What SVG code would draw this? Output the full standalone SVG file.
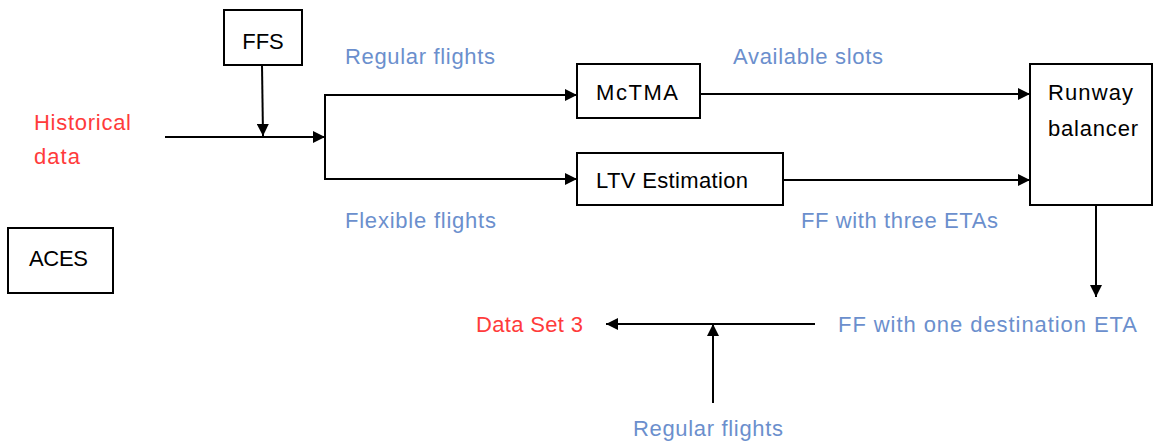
<svg xmlns="http://www.w3.org/2000/svg" width="1154" height="442" viewBox="0 0 1154 442">
<defs>
<style>
.box{fill:#fff;stroke:#000;stroke-width:2}
.ln{fill:none;stroke:#000;stroke-width:2}
.t{font-family:"Liberation Sans",Arial,sans-serif;font-size:22px}
.k{fill:#000}
.r{fill:#ff3b3b}
.b{fill:#6b8fcd}
</style>
<marker id="ah" viewBox="0 0 12 12" refX="12" refY="6" markerWidth="12" markerHeight="12" markerUnits="userSpaceOnUse" orient="auto">
<path d="M0,0 L12,6 L0,12 Z" fill="#000"/>
</marker>
</defs>
<rect width="1154" height="442" fill="#fff"/>
<g id="connectors">
<line class="ln" x1="165" y1="137" x2="325" y2="137" marker-end="url(#ah)"/>
<line class="ln" x1="262" y1="65" x2="263" y2="136" marker-end="url(#ah)"/>
<polyline class="ln" points="577,95 325,95 325,179 577,179"/>
<line class="ln" x1="560" y1="95" x2="577" y2="95" marker-end="url(#ah)"/>
<line class="ln" x1="560" y1="179" x2="577" y2="179" marker-end="url(#ah)"/>
<line class="ln" x1="700" y1="94" x2="1030" y2="94" marker-end="url(#ah)"/>
<line class="ln" x1="783" y1="180" x2="1030" y2="180" marker-end="url(#ah)"/>
<line class="ln" x1="1096" y1="205" x2="1096" y2="297" marker-end="url(#ah)"/>
<line class="ln" x1="815" y1="324" x2="606" y2="324" marker-end="url(#ah)"/>
<line class="ln" x1="713" y1="403" x2="713" y2="324" marker-end="url(#ah)"/>
</g>
<g id="ffs"><rect class="box" x="224" y="10" width="78" height="55"/><text class="t k" x="263" y="49" text-anchor="middle">FFS</text></g>
<g id="historical"><text class="t r" x="34" y="130" textLength="97">Historical</text><text class="t r" x="34" y="164" textLength="46">data</text></g>
<g id="aces"><rect class="box" x="8" y="228" width="105" height="65"/><text class="t k" x="29" y="266" textLength="59">ACES</text></g>
<g id="mctma"><rect class="box" x="577" y="64" width="123" height="54"/><text class="t k" x="596" y="100" textLength="82">McTMA</text></g>
<g id="ltv"><rect class="box" x="577" y="153" width="206" height="52"/><text class="t k" x="596" y="188" textLength="152">LTV Estimation</text></g>
<g id="runway"><rect class="box" x="1030" y="64" width="122" height="141"/><text class="t k" x="1048" y="100" textLength="85">Runway</text><text class="t k" x="1048" y="136" textLength="90">balancer</text></g>
<g id="labels">
<text class="t b" x="345" y="64" textLength="150">Regular flights</text>
<text class="t b" x="733" y="64" textLength="150">Available slots</text>
<text class="t b" x="345" y="228" textLength="151">Flexible flights</text>
<text class="t b" x="801" y="228" textLength="197">FF with three ETAs</text>
<text class="t b" x="838" y="332" textLength="299">FF with one destination ETA</text>
<text class="t r" x="476" y="332" textLength="107">Data Set 3</text>
<text class="t b" x="633" y="436" textLength="150">Regular flights</text>
</g>
</svg>
